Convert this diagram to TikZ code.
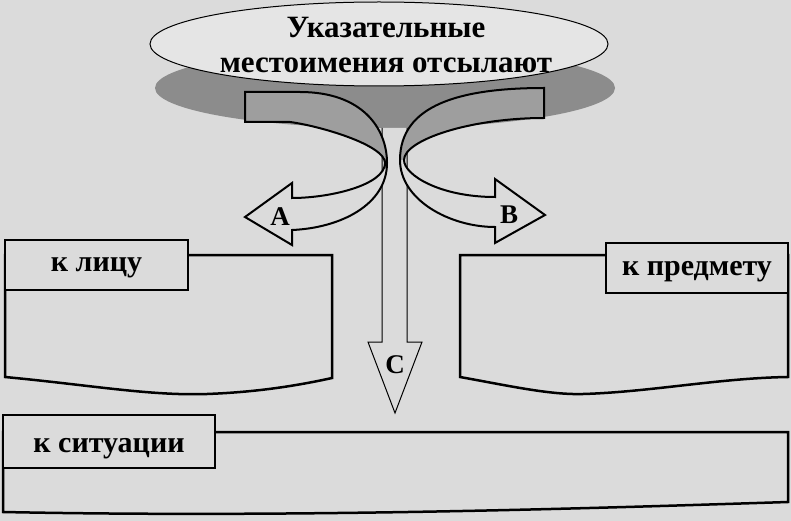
\documentclass[tikz,border=0pt]{standalone}
\usepackage{fontspec}
\setmainfont{Liberation Serif}
\definecolor{paper}{gray}{0.86}
\definecolor{shadowgray}{gray}{0.55}
\definecolor{bandgray}{gray}{0.62}
\definecolor{cloud}{gray}{0.9}

\begin{document}
\begin{tikzpicture}[x=1pt,y=-1pt]
	\tikzset{tagbox/.style={draw, fill=paper, line width=2.5pt, inner sep=0pt,
				text depth=0pt, font=\fontsize{30}{34}\selectfont\bfseries}}
	\tikzset{panel/.style={draw, fill=paper, line width=2.5pt}}
	\tikzset{band/.style={draw, line width=2pt}}
	\tikzset{letter/.style={font=\fontsize{27}{30}\selectfont\bfseries}}

		\fill[paper] (0,0) rectangle (791,521);
		\useasboundingbox (0,0) rectangle (791,521);

		% title with its shadow
		\fill[shadowgray] (385,88) ellipse [x radius=230pt, y radius=40pt];
		\draw[fill=cloud, line width=1pt] (379,44) ellipse [x radius=229pt, y radius=42pt];
		\node[align=center, font=\fontsize{31}{35}\selectfont\bfseries] (title) at (386,45)
			{Указательные\\местоимения отсылают};

		% arrow C
		\fill[paper] (382,128) -- (382,342) -- (368,342) -- (395,413) -- (422,342)
			-- (407,342) -- (407,128) -- cycle;
		\draw[line width=1pt] (382,128) -- (382,342) -- (368,342) -- (395,413) -- (422,342)
			-- (407,342) -- (407,128);

		% arrow A
		\fill[bandgray] (245,92) -- (300,92) .. controls (362,92) and (387,128) .. (387,163)
			-- (385,163) .. controls (385,145) and (320,126) .. (290,122) -- (245,122) -- cycle;
		\fill[paper] (387,163) .. controls (387,205) and (340,228) .. (292,230) -- (292,245)
			-- (245,217) -- (292,183) -- (292,198) .. controls (330,198) and (385,185) .. (385,163) -- cycle;
		\draw[band] (245,92) -- (300,92) .. controls (362,92) and (387,128) .. (387,163)
			.. controls (387,205) and (340,228) .. (292,230) -- (292,245) -- (245,217) -- (292,183)
			-- (292,198) .. controls (330,198) and (385,185) .. (385,163)
			.. controls (385,145) and (320,126) .. (290,122) -- (245,122) -- cycle;

		% arrow B
		\fill[bandgray] (544,88) .. controls (460,88) and (400,105) .. (400,160)
			-- (404,160) .. controls (404,140) and (470,118) .. (544,118) -- cycle;
		\fill[paper] (400,160) .. controls (400,200) and (450,227) .. (495,227) -- (495,243)
			-- (545,215) -- (495,179) -- (495,197) .. controls (440,197) and (404,175) .. (404,160) -- cycle;
		\draw[band] (544,88) .. controls (460,88) and (400,105) .. (400,160)
			.. controls (400,200) and (450,227) .. (495,227) -- (495,243) -- (545,215) -- (495,179)
			-- (495,197) .. controls (440,197) and (404,175) .. (404,160)
			.. controls (404,140) and (470,118) .. (544,118) -- cycle;

		\node[letter] (la) at (280,217) {A};
		\node[letter] (lb) at (509,215) {B};
		\node[letter] (lc) at (395,365) {C};

		% panels
		\draw[panel] (5,255) -- (332,255) -- (332,378)
			.. controls (300,385) and (260,392) .. (207,394)
			.. controls (150,396) and (90,385) .. (5,377) -- cycle;
		\draw[panel] (460,255) -- (788,255) -- (788,377)
			.. controls (720,378) and (650,392) .. (583,394)
			.. controls (550,395) and (510,386) .. (460,377) -- cycle;
		\draw[panel] (3,432) -- (788,432) -- (788,502)
			.. controls (600,508) and (300,518) .. (3,512) -- cycle;

		\node[tagbox, minimum width=183pt, minimum height=50pt] (lico) at (96.5,265) {к лицу};
		\node[tagbox, minimum width=182pt, minimum height=50pt] (predmet) at (697,268) {к предмету};
		\node[tagbox, minimum width=212pt, minimum height=53pt, line width=1.5pt,
			text height=22pt] (situac) at (109,441.5) {к ситуации};
\end{tikzpicture}
\end{document}
